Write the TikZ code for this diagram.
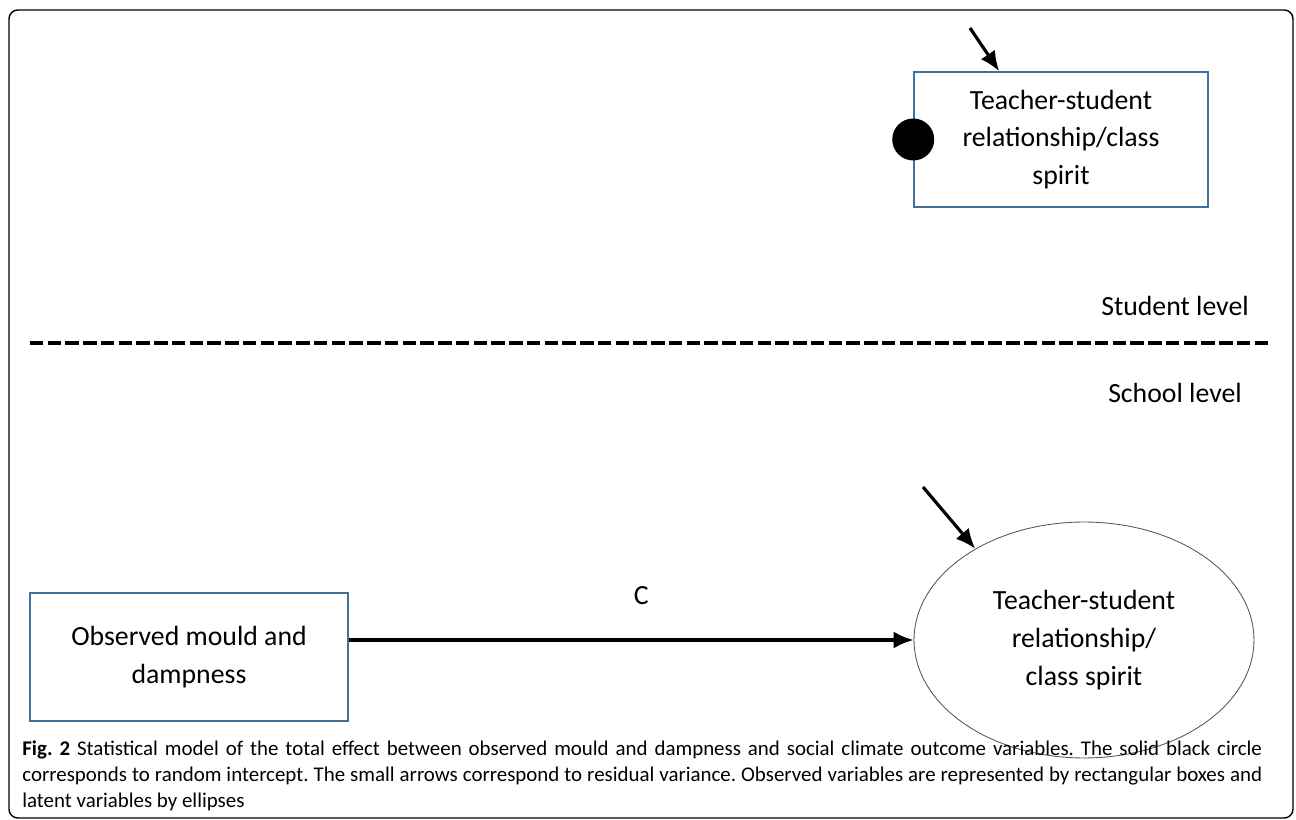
\documentclass[tikz,border=0pt]{standalone}
\usepackage{fontspec}
\setmainfont{Carlito}
\usepackage{tikz}
\usetikzlibrary{positioning,calc,arrows.meta,shapes.geometric}
\definecolor{boxblue}{HTML}{41719C}
\definecolor{ellgrey}{HTML}{595959}
\frenchspacing

\begin{document}
\begin{tikzpicture}[x=0.02cm,y=-0.02cm,
  font=\fontsize{15.8}{21.5}\selectfont,
  obsbox/.style={draw=boxblue,line width=0.9pt,align=center,inner sep=2pt},
  latent/.style={ellipse,draw=ellgrey,line width=0.5pt,align=center,minimum width=6.8cm,minimum height=4.72cm,inner sep=0pt},
  dot/.style={circle,fill=black,minimum size=0.84cm,inner sep=0pt},
  effect/.style={-{Latex[length=4mm,width=3.4mm]},line width=1.8pt},
  resid/.style={-{Latex[length=4mm,width=3.4mm]},line width=1.8pt},
  level/.style={font=\fontsize{15.8}{19}\selectfont}]
  \useasboundingbox (0,0) rectangle (1296,820);
  \draw[line width=0.8pt,rounded corners=5pt] (9,10) rectangle (1293,818);

  % student level
  \node[obsbox,minimum width=5.88cm,minimum height=2.7cm] (tsr) at (1061,139.5)
      {Teacher-student\\relationship/class\\spirit};
  \node[dot] (ri) at (tsr.west) {};
  \coordinate (tsrres) at (970,28);
  \draw[resid] (tsrres) -- ([xshift=1.72cm]tsr.north west);
  \node[level] (stud) at (1175,306) {Student level};

  % level split
  \coordinate (dl) at (30,343);
  \coordinate (dr) at (1272,343);
  \draw[line width=2.7pt,dash pattern=on 0.27cm off 0.085cm] (dl) -- (dr);
  \node[level] (school) at (1175,393) {School level};

  % school level
  \node[obsbox,minimum width=6.36cm,minimum height=2.56cm] (obs) at (189,657)
      {Observed mould and\\dampness};
  \node[latent] (tsrlat) at (1084,640) {Teacher-student\\relationship/\\class spirit};
  \coordinate (latres) at (923,487);
  \draw[resid] (latres) -- (tsrlat.140);
  \draw[effect] (obs.east |- tsrlat.west) -- (tsrlat.west) node[midway,above=0.55cm,xshift=0.2cm] (c) {C};

  % caption
  \node[anchor=north west,align=justify,text width=24.8cm,inner sep=0pt,font=\fontsize{11.9}{14.8}\selectfont] (cap) at (22,740)
      {\textbf{Fig. 2} Statistical model of the total effect between observed mould and dampness and social climate outcome variables. The solid black circle\linebreak
       corresponds to random intercept. The small arrows correspond to residual variance. Observed variables are represented by rectangular boxes and\linebreak
       latent variables by ellipses};
\end{tikzpicture}
\end{document}
